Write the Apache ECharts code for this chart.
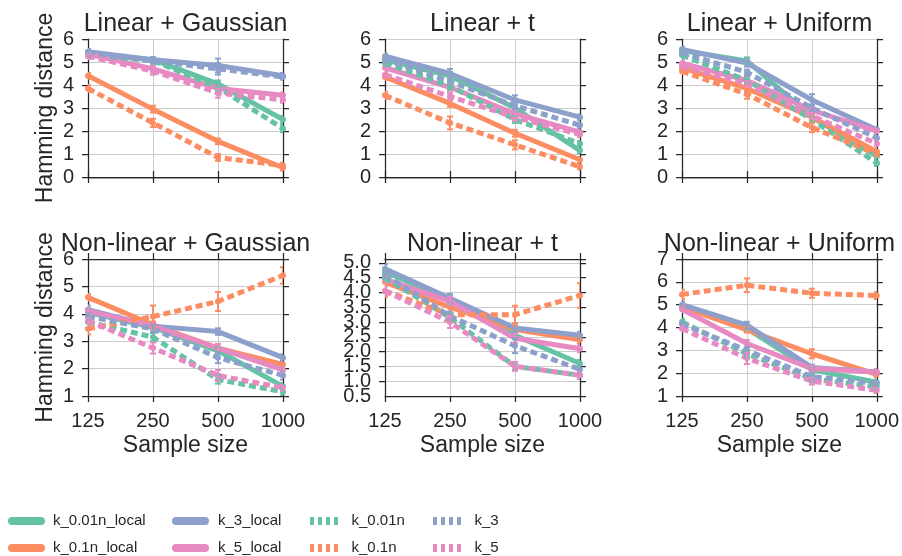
<!DOCTYPE html>
<html><head><meta charset="utf-8">
<script src="https://cdn.jsdelivr.net/npm/echarts@6/dist/echarts.min.js"></script>
<style>html,body{margin:0;padding:0;background:#fff}#chart{width:902px;height:556px}</style>
</head><body><div id="chart"></div>
<script>
const categories = ['125', '250', '500', '1000'];
const seriesNames = ['k_0.01n_local', 'k_0.1n_local', 'k_3_local', 'k_5_local', 'k_0.01n', 'k_0.1n', 'k_3', 'k_5'];
const panelTitles = ['Linear + Gaussian', 'Linear + t', 'Linear + Uniform', 'Non-linear + Gaussian', 'Non-linear + t', 'Non-linear + Uniform'];
const xAxisTitle = 'Sample size';
const yAxisTitle = 'Hamming distance';
const yMin = [0, 0, 0, 1, 0.5, 1];
const yMax = [6, 6, 6, 6, 5.13, 7];
const yStep = [1, 1, 1, 1, 0.5, 1];

// rows follow seriesNames order
const linearGaussianValues = [
  [5.35, 5.1, 4.05, 2.5], [4.4, 2.95, 1.55, 0.4], [5.45, 5.1, 4.85, 4.4], [5.35, 4.7, 3.85, 3.55],
  [5.3, 5.05, 3.9, 2.1], [3.85, 2.35, 0.85, 0.5], [5.4, 5.05, 4.7, 4.35], [5.25, 4.6, 3.65, 3.35]];
const linearGaussianErrors = [
  [0.12, 0.12, 0.15, 0.15], [0.12, 0.15, 0.12, 0.12], [0.12, 0.12, 0.3, 0.12], [0.12, 0.15, 0.15, 0.12],
  [0.12, 0.12, 0.15, 0.15], [0.15, 0.18, 0.15, 0.12], [0.12, 0.12, 0.25, 0.12], [0.12, 0.15, 0.2, 0.12]];
const linearTValues = [
  [5.1, 4.4, 3.0, 1.15], [4.35, 3.2, 1.9, 0.75], [5.25, 4.5, 3.35, 2.6], [4.75, 3.9, 2.75, 1.95],
  [4.95, 3.95, 2.5, 1.45], [3.55, 2.35, 1.4, 0.45], [5.1, 4.15, 3.1, 2.25], [4.45, 3.5, 2.6, 1.85]];
const linearTErrors = [
  [0.12, 0.15, 0.15, 0.12], [0.12, 0.15, 0.15, 0.12], [0.12, 0.2, 0.2, 0.12], [0.12, 0.15, 0.15, 0.12],
  [0.12, 0.15, 0.15, 0.12], [0.15, 0.28, 0.2, 0.12], [0.12, 0.15, 0.15, 0.12], [0.12, 0.15, 0.15, 0.12]];
const linearUniformValues = [
  [5.5, 5.05, 2.6, 0.9], [4.75, 3.85, 2.6, 1.1], [5.55, 4.95, 3.35, 2.05], [4.95, 4.2, 2.9, 2.0],
  [5.3, 4.2, 2.5, 0.6], [4.6, 3.6, 2.15, 1.0], [5.4, 4.55, 3.0, 1.7], [4.8, 4.05, 2.65, 1.45]];
const linearUniformErrors = [
  [0.12, 0.15, 0.12, 0.12], [0.12, 0.15, 0.12, 0.12], [0.12, 0.15, 0.25, 0.12], [0.12, 0.15, 0.12, 0.12],
  [0.12, 0.12, 0.12, 0.12], [0.12, 0.2, 0.2, 0.12], [0.12, 0.12, 0.15, 0.12], [0.12, 0.12, 0.12, 0.12]];
const nonlinearGaussianValues = [
  [4.05, 3.5, 2.65, 1.35], [4.6, 3.6, 2.75, 2.15], [4.15, 3.55, 3.35, 2.4], [4.1, 3.55, 2.75, 1.95],
  [3.7, 3.15, 1.6, 1.15], [3.45, 3.9, 4.45, 5.4], [3.9, 3.45, 2.4, 1.75], [3.75, 2.75, 1.75, 1.3]];
const nonlinearGaussianErrors = [
  [0.12, 0.12, 0.12, 0.12], [0.12, 0.12, 0.15, 0.12], [0.15, 0.12, 0.12, 0.12], [0.12, 0.12, 0.15, 0.12],
  [0.12, 0.15, 0.15, 0.12], [0.2, 0.4, 0.35, 0.3], [0.12, 0.15, 0.2, 0.15], [0.12, 0.2, 0.2, 0.12]];
const nonlinearTValues = [
  [4.7, 3.75, 2.55, 1.6], [4.35, 3.5, 2.75, 2.4], [4.8, 3.8, 2.8, 2.55], [4.45, 3.7, 2.45, 2.1],
  [4.5, 3.15, 1.5, 1.2], [4.05, 3.25, 3.25, 3.9], [4.6, 3.2, 2.2, 1.4], [4.05, 3.0, 1.5, 1.2]];
const nonlinearTErrors = [
  [0.12, 0.15, 0.12, 0.12], [0.12, 0.15, 0.12, 0.12], [0.15, 0.15, 0.15, 0.12], [0.12, 0.15, 0.15, 0.12],
  [0.12, 0.15, 0.12, 0.12], [0.2, 0.25, 0.3, 0.42], [0.12, 0.15, 0.25, 0.12], [0.15, 0.2, 0.15, 0.12]];
const nonlinearUniformValues = [
  [4.95, 3.95, 2.15, 1.6], [4.9, 3.9, 2.85, 1.95], [5.0, 4.1, 2.25, 2.05], [4.8, 3.3, 2.2, 2.05],
  [4.25, 2.85, 1.75, 1.4], [5.45, 5.85, 5.5, 5.4], [4.15, 3.0, 1.85, 1.55], [3.95, 2.65, 1.65, 1.25]];
const nonlinearUniformErrors = [
  [0.12, 0.12, 0.12, 0.12], [0.12, 0.12, 0.2, 0.12], [0.12, 0.15, 0.12, 0.12], [0.12, 0.15, 0.12, 0.12],
  [0.12, 0.15, 0.12, 0.12], [0.2, 0.3, 0.2, 0.15], [0.12, 0.15, 0.12, 0.12], [0.12, 0.25, 0.15, 0.12]];

const panelValues = [linearGaussianValues, linearTValues, linearUniformValues, nonlinearGaussianValues, nonlinearTValues, nonlinearUniformValues];
const panelErrors = [linearGaussianErrors, linearTErrors, linearUniformErrors, nonlinearGaussianErrors, nonlinearTErrors, nonlinearUniformErrors];

// ---- styles / layout ----
const FONT = '"Liberation Sans", Arial, sans-serif';
const TXT = '#262626';
const SPINE = '#262626';
const GRIDC = '#cccccc';
const palette = ['#66c2a5', '#fc8d62', '#8da0cb', '#e78ac3'];
const colLeft = [88, 385, 682];
const rowTop = [39, 259];
const rowH = [138, 137];
const plotW = 195;

const grid = [], xAxis = [], yAxis = [], title = [], series = [];
const yIndexOf = [];
const labelStyle = {fontFamily: FONT, fontSize: 20, color: TXT, margin: 14};
for (let p = 0; p < 6; p++) {
  const r = Math.floor(p / 3), c = p % 3;
  grid.push({left: colLeft[c], top: rowTop[r], width: plotW, height: rowH[r]});
  title.push({
    text: panelTitles[p], left: colLeft[c] + plotW / 2, textAlign: 'center', top: rowTop[r] - 27,
    padding: 0,
    textStyle: {fontFamily: FONT, fontSize: 25, fontWeight: 'normal', color: TXT}
  });
  const axLine = {show: true, lineStyle: {color: SPINE, width: 1.25}};
  const tick = {show: true, length: 6, inside: false, lineStyle: {color: SPINE, width: 1.25}};
  xAxis.push({
    type: 'category', gridIndex: p, data: categories, boundaryGap: false, position: 'bottom',
    axisLine: axLine, axisTick: Object.assign({interval: 0}, tick),
    axisLabel: {show: r === 1, interval: 0, fontFamily: FONT, fontSize: 20, color: TXT, margin: 15},
    splitLine: {show: true, lineStyle: {color: GRIDC, width: 1}},
    name: r === 1 ? xAxisTitle : '', nameLocation: 'middle', nameGap: 38,
    nameTextStyle: {fontFamily: FONT, fontSize: 23, color: TXT}
  });
  xAxis.push({
    type: 'category', gridIndex: p, data: categories, boundaryGap: false, position: 'top',
    axisLine: axLine, axisTick: Object.assign({interval: 0}, tick),
    axisLabel: {show: false}, splitLine: {show: false}
  });
  const half = yStep[p] < 1;
  yIndexOf.push(yAxis.length);
  yAxis.push({
    type: 'value', gridIndex: p, position: 'left', min: yMin[p], max: yMax[p], interval: yStep[p],
    axisLine: axLine, axisTick: tick,
    axisLabel: Object.assign({}, labelStyle, {
      formatter: half ? (v => (Math.abs(v - Math.round(v)) < 1e-6 ? v.toFixed(1) : '')) : (v => String(v)),
      showMinLabel: !half, showMaxLabel: yMax[p] % yStep[p] === 0
    }),
    splitLine: {show: true, lineStyle: {color: GRIDC, width: 1}},
    name: c === 0 ? yAxisTitle : '', nameLocation: 'middle', nameGap: 31,
    nameTextStyle: {fontFamily: FONT, fontSize: 23, color: TXT}
  });
  yAxis.push({
    type: 'value', gridIndex: p, position: 'right', min: yMin[p], max: yMax[p], interval: yStep[p],
    axisLine: axLine, axisTick: tick, axisLabel: {show: false}, splitLine: {show: false}
  });
  if (half) {
    // second label layer for the x.5 ticks (ticks counted from min with a full-unit step)
    yAxis.push({
      type: 'value', gridIndex: p, position: 'left', offset: 0, min: yMin[p], max: yMax[p], interval: yStep[p] * 2,
      axisLine: {show: false}, axisTick: {show: false}, splitLine: {show: false},
      axisLabel: Object.assign({}, labelStyle, {formatter: v => v.toFixed(1), showMinLabel: true, showMaxLabel: false})
    });
  }
}

function errorBarRender(params, api) {
  const i = api.value(0), v = api.value(1), e = api.value(2);
  const top = api.coord([i, v + e]);
  const bot = api.coord([i, v - e]);
  const col = api.visual('color');
  const hw = 3;
  return {
    type: 'group', children: [
      {type: 'line', shape: {x1: top[0], y1: top[1], x2: bot[0], y2: bot[1]}, style: {stroke: col, lineWidth: 2}},
      {type: 'line', shape: {x1: top[0] - hw, y1: top[1], x2: top[0] + hw, y2: top[1]}, style: {stroke: col, lineWidth: 2}},
      {type: 'line', shape: {x1: bot[0] - hw, y1: bot[1], x2: bot[0] + hw, y2: bot[1]}, style: {stroke: col, lineWidth: 2}}
    ]
  };
}

for (let p = 0; p < 6; p++) {
  for (let s = 0; s < 8; s++) {
    const color = palette[s % 4];
    const dashed = s >= 4;
    series.push({
      type: 'line', name: seriesNames[s], xAxisIndex: 2 * p, yAxisIndex: yIndexOf[p],
      data: panelValues[p][s], symbol: 'circle', symbolSize: 6, showSymbol: true,
      lineStyle: {width: 5, color: color, type: dashed ? [7, 4] : 'solid', cap: 'butt'},
      itemStyle: {color: color}, z: 3, animation: false, silent: true, clip: true
    });
  }
  for (let s = 0; s < 8; s++) {
    const color = palette[s % 4];
    series.push({
      type: 'custom', name: seriesNames[s], xAxisIndex: 2 * p, yAxisIndex: yIndexOf[p],
      data: panelValues[p][s].map((v, i) => [i, v, panelErrors[p][s][i]]),
      renderItem: errorBarRender, itemStyle: {color: color}, z: 4, animation: false, silent: true, clip: true
    });
  }
}

const solidIcon = 'path://M4,0h29a4,4 0 0 1 0,8h-29a4,4 0 0 1 0,-8z';
const dashIcon = 'path://M0,0h4v8h-4zM8,0h4v8h-4zM16,0h4v8h-4zM24,0h4v8h-4z';
const legendCols = [[0, 1], [2, 3], [4, 5], [6, 7]];
const legendLeft = [8, 172, 310, 433];
const legendTextGap = [3, 4, 8, 8];
const legendTop = [512, 539];
const legend = [];
legendCols.forEach((col, ci) => {
  col.forEach((s, ri) => {
    const dashed = s >= 4;
    legend.push({
      left: legendLeft[ci], top: legendTop[ri], orient: 'vertical', selectedMode: false, padding: 0,
      itemWidth: dashed ? 29 : 37, itemHeight: 8,
      textStyle: {fontFamily: FONT, fontSize: 15, color: TXT, lineHeight: 18, padding: [0, 0, 0, legendTextGap[ci]]},
      data: [{name: seriesNames[s], icon: dashed ? dashIcon : solidIcon, itemStyle: {color: palette[s % 4]}}]
    });
  });
});

const chart = echarts.init(document.getElementById('chart'), null, {renderer: 'canvas'});
chart.setOption({
  backgroundColor: '#ffffff', animation: false,
  title, grid, xAxis, yAxis, legend, series
});
</script>
</body></html>
